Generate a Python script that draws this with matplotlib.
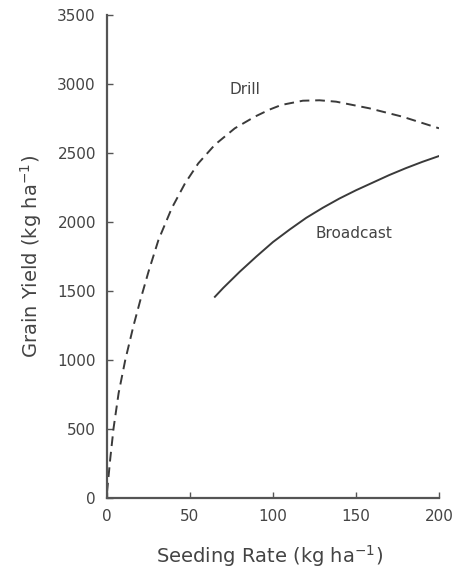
import matplotlib
matplotlib.use("Agg")
import matplotlib.pyplot as plt

# Drill (dashed) curve
drill_x = [0, 2, 4, 7, 11, 16, 20, 25, 31, 39, 47, 55, 65, 77, 89, 98, 105, 118, 128,
           138, 158, 178, 200]
drill_y = [40, 290, 510, 760, 1000, 1250, 1430, 1640, 1870, 2100, 2280, 2425, 2560, 2679,
           2763, 2815, 2848, 2879, 2882, 2872, 2824, 2763, 2679]

# Broadcast (solid) curve
bc_x = [65, 70, 80, 90, 100, 110, 120, 130, 140, 150, 160, 170, 180, 190, 200]
bc_y = [1458, 1522, 1640, 1750, 1855, 1945, 2030, 2103, 2170, 2230, 2285, 2340, 2390, 2436, 2478]

xticks = [0, 50, 100, 150, 200]
yticks = [0, 500, 1000, 1500, 2000, 2500, 3000, 3500]

line_color = "#3a3a3a"
text_color = "#444444"

fig = plt.figure(figsize=(4.56, 5.77), dpi=100)
ax = fig.add_axes([107/456, 79/577, 332/456, 483/577])

ax.plot(drill_x, drill_y, color=line_color, lw=1.4, ls=(0, (5, 3)))
ax.plot(bc_x, bc_y, color=line_color, lw=1.4, ls="-")

ax.text(83, 2960, "Drill", color=text_color, fontsize=11, ha="center", va="center")
ax.text(149, 1920, "Broadcast", color=text_color, fontsize=11, ha="center", va="center")

ax.set_xlim(0, 200)
ax.set_ylim(0, 3500)
ax.set_xticks(xticks)
ax.set_yticks(yticks)
ax.spines["top"].set_visible(False)
ax.spines["right"].set_visible(False)
for s in ("left", "bottom"):
    ax.spines[s].set_color("#555555")
    ax.spines[s].set_linewidth(1.6)
ax.tick_params(direction="in", length=4, width=1, color="#555555",
               labelcolor=text_color, labelsize=11, pad=8)

ax.set_xlabel(r"Seeding Rate (kg ha$^{-1}$)", fontsize=14, color=text_color)
ax.set_ylabel(r"Grain Yield (kg ha$^{-1}$)", fontsize=14, color=text_color)
ax.xaxis.set_label_coords(0.49, -0.094)
ax.yaxis.set_label_coords(-0.19, 0.5)

fig.savefig("out.png", dpi=100)
